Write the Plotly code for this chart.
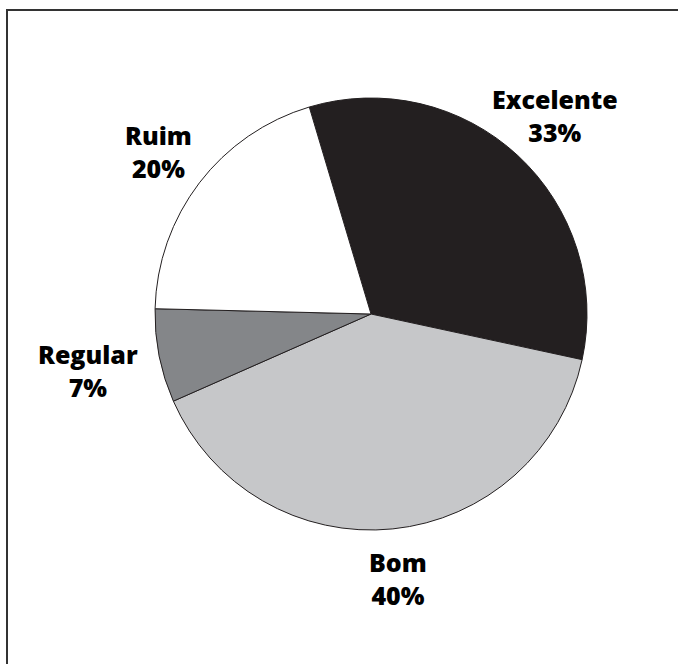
import math
import plotly.graph_objects as go

labels = ["Excelente", "Bom", "Regular", "Ruim"]
values = [33, 40, 7, 20]
colors = ["#231f20", "#c6c7c9", "#848689", "#ffffff"]
label_dist = [271, 266, 289, 268]   # px from pie centre to label centre (style)

W, H = 678, 664
L, R, T, B = 155, 91, 98, 134
pw, ph = W - L - R, H - T - B
ROT = -16.6

def px_x(x):
    return (x - L) / pw

def px_y(y):
    return (H - B - y) / ph

fig = go.Figure(go.Pie(
    labels=labels,
    values=values,
    sort=False,
    direction="clockwise",
    rotation=ROT,
    marker=dict(colors=colors, line=dict(color="#231f20", width=1)),
    textinfo="none",
    showlegend=False,
    hoverinfo="label+percent",
))

# labels placed at each slice's mid-angle, computed from the data
cx, cy = L + pw / 2, T + ph / 2
total = sum(values)
start = ROT
for lab, v, d in zip(labels, values, label_dist):
    mid = start + 360 * v / total / 2
    start += 360 * v / total
    a = math.radians(mid)
    x = cx + d * math.sin(a)
    y = cy - d * math.cos(a)
    fig.add_annotation(
        x=px_x(x), y=px_y(y), xref="paper", yref="paper",
        text=f"{lab}<br>{round(100 * v / total)}%",
        showarrow=False, xanchor="center", yanchor="middle", align="center",
        font=dict(family="Open Sans", size=25, color="#000000", weight=800),
    )

fig.add_shape(type="rect", xref="paper", yref="paper",
              x0=px_x(7), x1=px_x(700), y0=px_y(700), y1=px_y(10),
              line=dict(color="#333333", width=2), fillcolor="rgba(0,0,0,0)")

fig.update_layout(
    width=W, height=H,
    margin=dict(l=L, r=R, t=T, b=B),
    paper_bgcolor="white", plot_bgcolor="white",
)

fig.write_html("out.html")
